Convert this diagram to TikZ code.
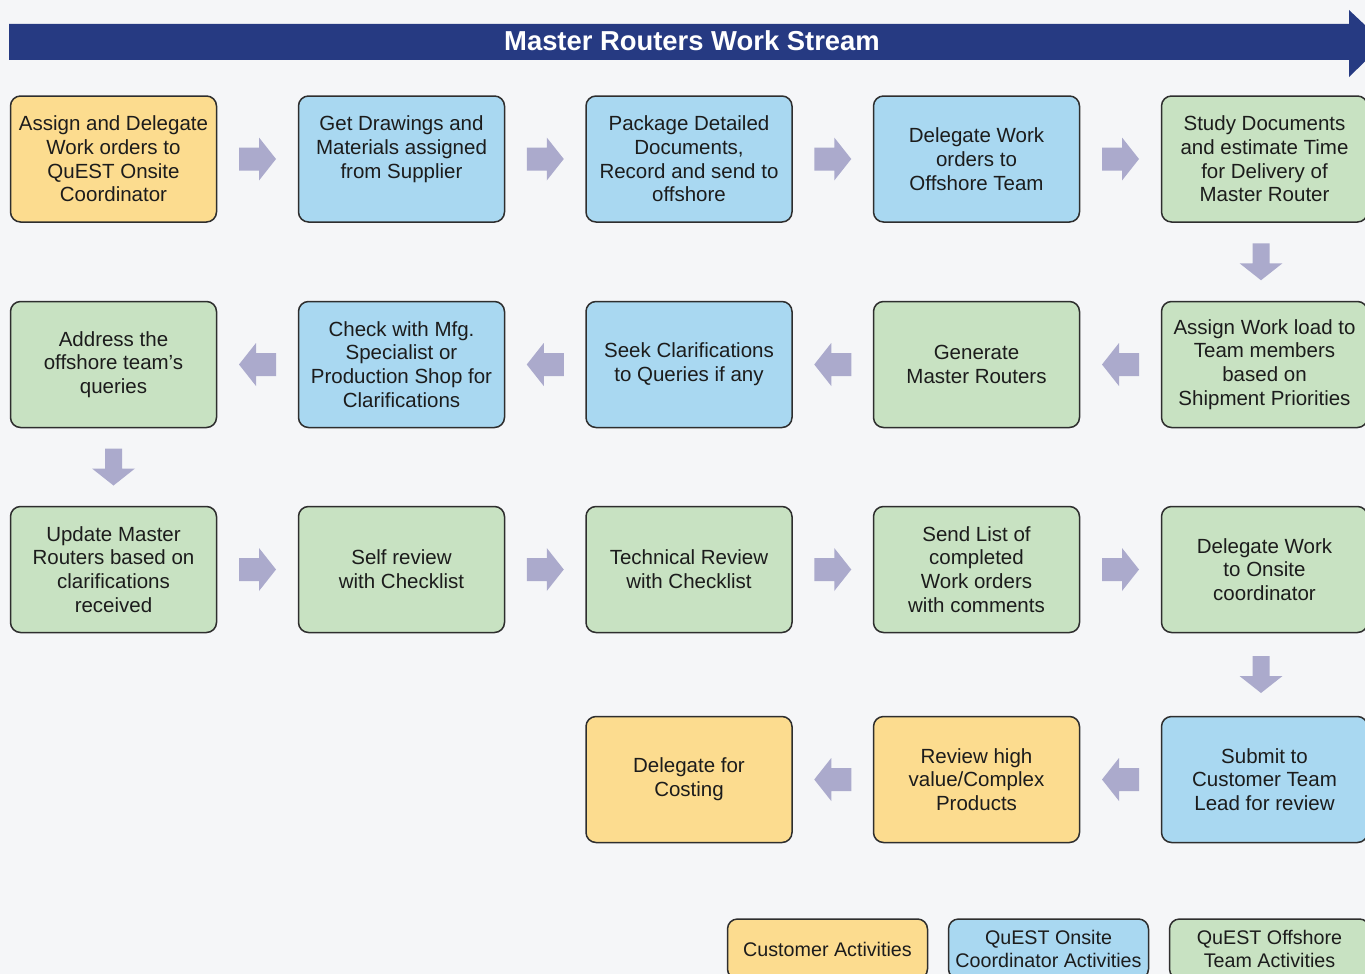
\documentclass[tikz,border=0pt]{standalone}
\usepackage{fontspec}
\setmainfont{Liberation Sans}
\usetikzlibrary{calc}
\definecolor{bgcol}{HTML}{F5F6F8}
\definecolor{bannercol}{HTML}{263A82}
\definecolor{arrowcol}{HTML}{ABAACC}
\definecolor{boxline}{HTML}{2E2E2E}
\definecolor{txtcol}{HTML}{1C1C1C}
\definecolor{yel}{HTML}{FCDC8F}
\definecolor{blu}{HTML}{A9D8F1}
\definecolor{grn}{HTML}{C8E2C2}
\tikzset{
  box/.style={draw=boxline, line width=1.5pt, rounded corners=10pt,
    minimum width=206pt, minimum height=126pt, align=center, text=txtcol,
    font=\fontsize{20.5}{23.7}\selectfont, inner sep=2pt},
  yelbox/.style={box, fill=yel},
  blubox/.style={box, fill=blu},
  grnbox/.style={box, fill=grn},
  legbox/.style={box, minimum width=200pt, minimum height=60pt, font=\fontsize{19.7}{23}\selectfont},
  blockarrow/.pic={\fill[arrowcol] (-18.5,-11.5) -- (1.5,-11.5) -- (1.5,-21.5) -- (18.5,0) -- (1.5,21.5) -- (1.5,11.5) -- (-18.5,11.5) -- cycle;},
  downarrow/.pic={\fill[arrowcol] (-18.5,-8.5) -- (1.5,-8.5) -- (1.5,-21.5) -- (18.5,0) -- (1.5,21.5) -- (1.5,8.5) -- (-18.5,8.5) -- cycle;}
}
\begin{document}
\begin{tikzpicture}[x=1pt,y=-1pt]
\fill[bgcol] (0,0) rectangle (1365,974);
\useasboundingbox (0,0) rectangle (1365,974);
% banner
\fill[bannercol] (9,24) -- (1349,24) -- (1349,10) -- (1384,43) -- (1349,77) -- (1349,60) -- (9,60) -- cycle;
\node[text=white, font=\fontsize{27.4}{30}\selectfont\bfseries] (title) at (692,41) {Master Routers Work Stream};
% row 1
\node[yelbox] (r1c1) at (113.5,159) {Assign and Delegate\\Work orders to\\QuEST Onsite\\Coordinator};
\node[blubox] (r1c2) at (401.5,159) {Get Drawings and\\Materials assigned\\from Supplier\\\mbox{}};
\node[blubox] (r1c3) at (689,159) {Package Detailed\\Documents,\\Record and send to\\offshore};
\node[blubox] (r1c4) at (976.5,159) {Delegate Work\\orders to\\Offshore Team};
\node[grnbox] (r1c5) at (1264.5,159) {Study Documents\\and estimate Time\\for Delivery of\\Master Router};
% row 2
\node[grnbox] (r2c5) at (1264.5,364.5) {Assign Work load to\\Team members\\based on\\Shipment Priorities};
\node[grnbox] (r2c4) at (976.5,364.5) {Generate\\Master Routers};
\node[blubox] (r2c3) at (689,364.5) {Seek Clarifications\\to Queries if any};
\node[blubox] (r2c2) at (401.5,364.5) {Check with Mfg.\\Specialist or\\Production Shop for\\Clarifications};
\node[grnbox] (r2c1) at (113.5,364.5) {Address the\\offshore team’s\\queries};
% row 3
\node[grnbox] (r3c1) at (113.5,569.5) {Update Master\\Routers based on\\clarifications\\received};
\node[grnbox] (r3c2) at (401.5,569.5) {Self review\\with Checklist};
\node[grnbox] (r3c3) at (689,569.5) {Technical Review\\with Checklist};
\node[grnbox] (r3c4) at (976.5,569.5) {Send List of\\completed\\Work orders\\with comments};
\node[grnbox] (r3c5) at (1264.5,569.5) {Delegate Work\\to Onsite\\coordinator};
% row 4
\node[blubox] (r4c5) at (1264.5,779.5) {Submit to\\Customer Team\\Lead for review};
\node[yelbox] (r4c4) at (976.5,779.5) {Review high\\value/Complex\\Products};
\node[yelbox] (r4c3) at (689,779.5) {Delegate for\\Costing};
% arrows row 1
\pic at ($(r1c1.east)!0.5!(r1c2.west)$) {blockarrow};
\pic at ($(r1c2.east)!0.5!(r1c3.west)$) {blockarrow};
\pic at ($(r1c3.east)!0.5!(r1c4.west)$) {blockarrow};
\pic at ($(r1c4.east)!0.5!(r1c5.west)$) {blockarrow};
\pic[rotate=-90] at ($($(r1c5.south)!0.5!(r2c5.north)$)+(-3.5,0)$) {downarrow};
% arrows row 2
\pic[rotate=180] at ($(r2c5.west)!0.5!(r2c4.east)$) {blockarrow};
\pic[rotate=180] at ($(r2c4.west)!0.5!(r2c3.east)$) {blockarrow};
\pic[rotate=180] at ($(r2c3.west)!0.5!(r2c2.east)$) {blockarrow};
\pic[rotate=180] at ($(r2c2.west)!0.5!(r2c1.east)$) {blockarrow};
\pic[rotate=-90] at ($(r2c1.south)!0.5!(r3c1.north)$) {downarrow};
% arrows row 3
\pic at ($(r3c1.east)!0.5!(r3c2.west)$) {blockarrow};
\pic at ($(r3c2.east)!0.5!(r3c3.west)$) {blockarrow};
\pic at ($(r3c3.east)!0.5!(r3c4.west)$) {blockarrow};
\pic at ($(r3c4.east)!0.5!(r3c5.west)$) {blockarrow};
\pic[rotate=-90] at ($($(r3c5.south)!0.5!(r4c5.north)$)+(-3.5,0)$) {downarrow};
% arrows row 4
\pic[rotate=180] at ($(r4c5.west)!0.5!(r4c4.east)$) {blockarrow};
\pic[rotate=180] at ($(r4c4.west)!0.5!(r4c3.east)$) {blockarrow};
% legend
\node[legbox, fill=yel] (lg1) at (827.5,949) {Customer Activities};
\node[legbox, fill=blu] (lg2) at (1048.5,949) {QuEST Onsite\\Coordinator Activities};
\node[legbox, fill=grn] (lg3) at (1269.5,949) {QuEST Offshore\\Team Activities};
\end{tikzpicture}
\end{document}
